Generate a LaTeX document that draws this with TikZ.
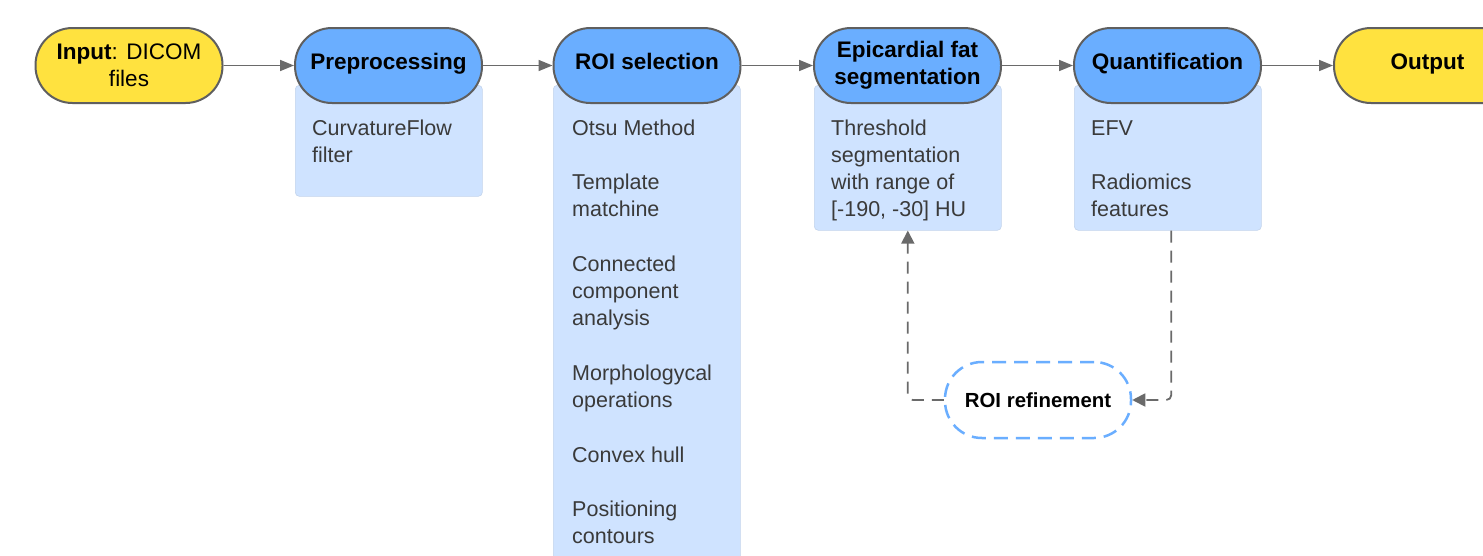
\documentclass[tikz,border=0pt]{standalone}
\usepackage{fontspec}
\setmainfont{Liberation Sans}
\usetikzlibrary{arrows.meta}
\definecolor{yel}{HTML}{FFE23F}
\definecolor{pblue}{HTML}{6AAEFF}
\definecolor{lblue}{HTML}{CFE3FF}
\definecolor{edgec}{HTML}{5F5F5F}
\definecolor{arr}{HTML}{6A6A6A}
\definecolor{txt}{HTML}{3A3A3A}
\begin{document}
\begin{tikzpicture}[x=1pt,y=-1pt,
 pill/.style={draw=edgec, line width=2pt, rounded corners=37pt, minimum width=187pt, minimum height=75pt, align=center, font=\fontsize{22.5}{27}\selectfont\bfseries, inner sep=0pt},
 oneline/.style={text height=16pt, text depth=9pt},
 bodybox/.style={fill=lblue, draw=lblue!85!gray, line width=0.6pt, rounded corners=4pt, anchor=north west, minimum width=187pt, inner sep=0pt},
 bodytxt/.style={anchor=base west, font=\fontsize{21.5}{27}\selectfont, text=txt, inner sep=0pt},
 flow/.style={draw=arr, line width=1.6pt, -{Triangle[length=14pt,width=11pt]}},
 back/.style={draw=arr, line width=1.8pt, dash pattern=on 12pt off 8pt, rounded corners=5pt, -{Triangle[length=13pt,width=13pt]}}
]
\useasboundingbox (0,0) rectangle (1483,555);
\fill[white] (0,0) rectangle (1483,555);
% body boxes
\node[bodybox, minimum height=111pt] (pb) at (295,85) {};
\node[bodybox, minimum height=500pt] (rb) at (553,85) {};
\node[bodybox, minimum height=145pt] (eb) at (814,85) {};
\node[bodybox, minimum height=145pt] (qb) at (1074,85) {};
% pills
\node[pill, fill=yel, font=\fontsize{22.5}{27}\selectfont] (in) at (129,65.5) {\textbf{Input}: DICOM\\files};
\node[pill, oneline, fill=pblue] (pp) at (388.5,65.5) {Preprocessing};
\node[pill, oneline, fill=pblue] (roi) at (647,65.5) {ROI selection};
\node[pill, fill=pblue] (epi) at (907.5,65.5) {Epicardial fat\\segmentation};
\node[pill, oneline, fill=pblue] (qu) at (1167.5,65.5) {Quantification};
\node[pill, oneline, fill=yel] (out) at (1427.5,65.5) {Output};
% flow arrows
\draw[flow] (in) -- (pp);
\draw[flow] (pp) -- (roi);
\draw[flow] (roi) -- (epi);
\draw[flow] (epi) -- (qu);
\draw[flow] (qu) -- (out);
% body texts
\node[bodytxt] (p1) at (312,135) {CurvatureFlow};
\node[bodytxt] (p2) at (312,162) {filter};
\foreach \y/\t [count=\i] in {135/Otsu Method, 189/Template, 216/matchine, 271/Connected, 298/component, 325/analysis, 380/Morphologycal, 407/operations, 462/Convex hull, 516/Positioning, 543/contours}
  \node[bodytxt] (r\i) at (572,\y) {\t};
\node[bodytxt] (e1) at (831,135) {Threshold};
\node[bodytxt] (e2) at (831,162) {segmentation};
\node[bodytxt] (e3) at (831,189) {with range of};
\node[bodytxt] (e4) at (831,216) {[-190, -30] HU};
\node[bodytxt] (q1) at (1091,135) {EFV};
\node[bodytxt] (q2) at (1091,189) {Radiomics};
\node[bodytxt] (q3) at (1091,216) {features};
% refinement
\node[draw=pblue, fill=white, line width=2.5pt, dash pattern=on 14pt off 8pt, rounded corners=37pt, minimum width=186pt, minimum height=76pt, inner sep=0pt, font=\fontsize{20.4}{24}\selectfont\bfseries] (ref) at (1038,400) {ROI refinement};
\draw[back] ([xshift=3.5pt]qb.south) |- (ref.east);
\draw[back] (ref.west) -| (eb.south);
\end{tikzpicture}
\end{document}
